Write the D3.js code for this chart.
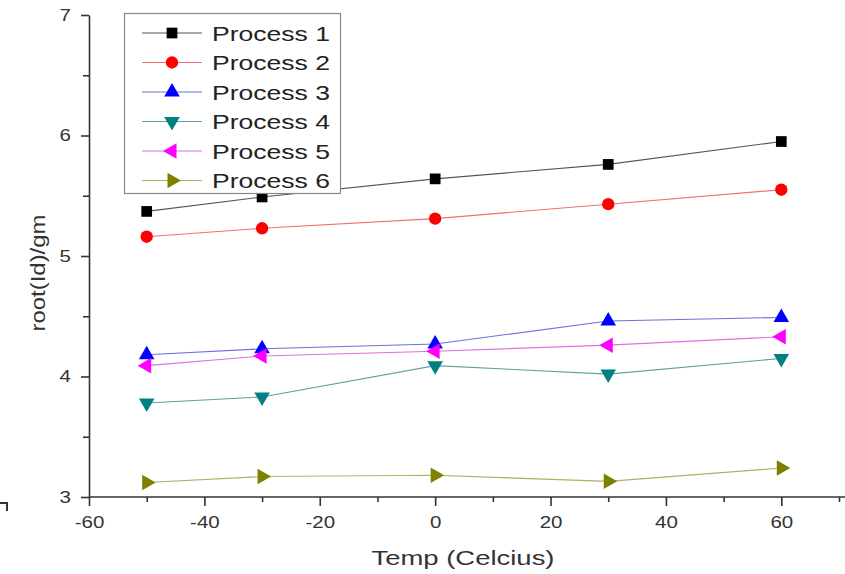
<!DOCTYPE html>
<html>
<head>
<meta charset="utf-8">
<script src="https://cdn.jsdelivr.net/npm/d3@7"></script>
<style>
  html, body { margin: 0; padding: 0; background: #fff; }
  svg { display: block; font-family: "Liberation Sans", Arial, sans-serif; }
</style>
</head>
<body>
<svg id="chart" width="845" height="574"></svg>
<script>
// Temperature sweep (°C)
const temps = [-50, -30, 0, 30, 60];

// root(Id)/gm per process
const process1 = [5.37, 5.49, 5.64, 5.76, 5.95];
const process2 = [5.16, 5.23, 5.31, 5.43, 5.55];
const process3 = [4.18, 4.23, 4.27, 4.46, 4.49];
const process4 = [3.78, 3.83, 4.09, 4.02, 4.15];
const process5 = [4.09, 4.17, 4.21, 4.26, 4.33];
const process6 = [3.12, 3.17, 3.18, 3.13, 3.24];

const seriesNames = ["Process 1", "Process 2", "Process 3", "Process 4", "Process 5", "Process 6"];
const seriesValues = [process1, process2, process3, process4, process5, process6];
const seriesColors = ["#000000", "#ff0000", "#0000ff", "#008080", "#ff00ff", "#808000"];
const lineColors = ["#555555", "#f07070", "#7070e0", "#60a0a0", "#e070e0", "#b0b060"];

const xTicks = [-60, -40, -20, 0, 20, 40, 60];
const yTicks = [3, 4, 5, 6, 7];

const svg = d3.select("#chart");

const x = d3.scaleLinear().domain([-60, 70]).range([89, 839]);
const y = d3.scaleLinear().domain([3, 7]).range([497, 15]);

// widen a text element horizontally by a factor
function widen(sel, factor) {
  sel.each(function () {
    const w = this.getComputedTextLength();
    d3.select(this).attr("textLength", w * factor).attr("lengthAdjust", "spacingAndGlyphs");
  });
}

// marker shapes: square, circle, up / down / left / right triangles
const markerDefs = [
  { type: d3.symbolSquare, size: 115, rot: 0 },
  { type: d3.symbolCircle, size: 120, rot: 0 },
  { type: d3.symbolTriangle, size: 105, rot: 0 },
  { type: d3.symbolTriangle, size: 105, rot: 180 },
  { type: d3.symbolTriangle, size: 105, rot: -90 },
  { type: d3.symbolTriangle, size: 105, rot: 90 }
];

function drawMarker(g, i, cx, cy) {
  const m = markerDefs[i];
  g.append("path")
    .attr("d", d3.symbol().type(m.type).size(m.size)())
    .attr("transform", `translate(${cx},${cy}) rotate(${m.rot})`)
    .attr("fill", seriesColors[i]);
}

// axes
const axisColor = "#333";
const fmt = d => String(d);
const xAxis = svg.append("g").attr("transform", `translate(0,${y(3)})`)
  .call(d3.axisBottom(x).tickValues(xTicks).tickSize(9).tickSizeOuter(0).tickPadding(11).tickFormat(fmt));
const xMinor = svg.append("g").attr("transform", `translate(0,${y(3)})`)
  .call(d3.axisBottom(x).tickValues([-50, -30, -10, 10, 30, 50, 70]).tickSize(5).tickSizeOuter(0).tickFormat(""));
xMinor.select(".domain").remove();

const yAxis = svg.append("g").attr("transform", `translate(${x(-60)},0)`)
  .call(d3.axisLeft(y).tickValues(yTicks).tickSize(8).tickSizeOuter(0).tickPadding(10).tickFormat(fmt));
const yMinor = svg.append("g").attr("transform", `translate(${x(-60)},0)`)
  .call(d3.axisLeft(y).tickValues([3.5, 4.5, 5.5, 6.5]).tickSize(6).tickSizeOuter(0).tickFormat(""));
yMinor.select(".domain").remove();

// extend x axis line to the right edge
xAxis.select(".domain").attr("d", `M${x(-60)},0H845`);

svg.selectAll(".domain, .tick line").attr("stroke", axisColor).attr("stroke-width", 1.6);
svg.selectAll(".tick text").attr("fill", "#333").style("font-size", "16px").style("font-family", "'Liberation Sans', Arial, sans-serif");
widen(svg.selectAll(".tick text"), 1.28);

// axis titles
svg.append("text")
  .attr("x", 463).attr("y", 565)
  .attr("text-anchor", "middle")
  .attr("fill", "#333")
  .style("font-size", "21px")
  .attr("textLength", 183).attr("lengthAdjust", "spacingAndGlyphs")
  .text("Temp (Celcius)");

svg.append("text")
  .attr("transform", "translate(45,273) rotate(-90)")
  .attr("text-anchor", "middle")
  .attr("fill", "#333")
  .style("font-size", "21px")
  .attr("textLength", 117).attr("lengthAdjust", "spacingAndGlyphs")
  .text("root(Id)/gm");

// small corner mark at the lower left
svg.append("path")
  .attr("d", "M0,503H7V511")
  .attr("fill", "none")
  .attr("stroke", "#333")
  .attr("stroke-width", 2);

// series lines and markers
const line = d3.line().x((d, j) => x(temps[j])).y(d => y(d));
seriesValues.forEach((vals, i) => {
  svg.append("path")
    .datum(vals)
    .attr("d", line)
    .attr("fill", "none")
    .attr("stroke", lineColors[i])
    .attr("stroke-width", 1.1);
});
seriesValues.forEach((vals, i) => {
  const g = svg.append("g");
  vals.forEach((v, j) => drawMarker(g, i, x(temps[j]), y(v)));
});

// legend
const legend = svg.append("g");
legend.append("rect")
  .attr("x", 124.5).attr("y", 13.5)
  .attr("width", 216).attr("height", 180)
  .attr("fill", "#fff")
  .attr("stroke", "#888")
  .attr("stroke-width", 1.2);
seriesNames.forEach((name, i) => {
  const cy = 33 + i * 29.5;
  legend.append("line")
    .attr("x1", 142).attr("x2", 202)
    .attr("y1", cy).attr("y2", cy)
    .attr("stroke", lineColors[i]).attr("stroke-width", 1.1);
  drawMarker(legend, i, 172, cy);
  legend.append("text")
    .attr("x", 212).attr("y", cy)
    .attr("dy", "0.36em")
    .attr("fill", "#222")
    .style("font-size", "21px")
    .attr("textLength", 118).attr("lengthAdjust", "spacingAndGlyphs")
    .text(name);
});
</script>
</body>
</html>
